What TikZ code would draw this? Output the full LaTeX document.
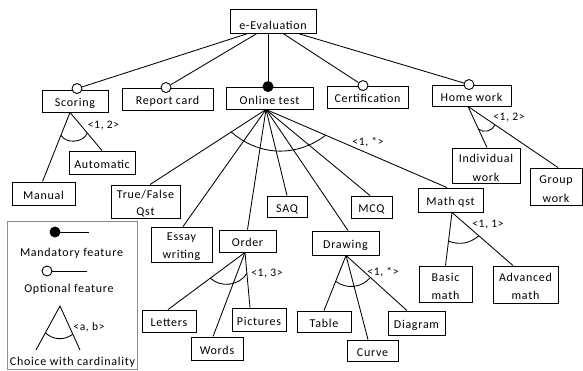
\documentclass[tikz,border=0pt]{standalone}
\usepackage{fontspec}
\setmainfont{Carlito}[LetterSpace=6]
\usetikzlibrary{calc}
\begin{document}
\begin{tikzpicture}[x=1pt,y=-1pt,
  txt/.style={font=\fontsize{12}{14}\selectfont, inner sep=0pt},
  card/.style={font=\fontsize{11.5}{13}\selectfont, inner sep=0pt},
  box/.style={draw, line width=0.9pt, inner sep=0pt, font=\fontsize{12}{14}\selectfont,
              text height=11.5pt, text depth=0.5pt},
  link/.style={line width=0.85pt},
  opt/.style={circle, draw, fill=white, line width=0.9pt, minimum size=10pt, inner sep=0pt},
  mand/.style={opt, fill=black},
]
\useasboundingbox (0,0) rectangle (583,370);

% ---------- feature boxes ----------
\node[box, minimum width=86pt, minimum height=24pt, text height=16.8pt, text depth=0.2pt] (ev) at (273,21) {e-Evaluation};

\node[box, minimum width=66pt, minimum height=22pt] (sc) at (75,101) {Scoring};
\node[box, minimum width=91pt, minimum height=22pt] (rc) at (167.5,99) {Report card};
\node[box, minimum width=87pt, minimum height=22pt, text height=12pt, text depth=0pt] (ot) at (269.5,98) {Online test};
\node[box, minimum width=81pt, minimum height=22pt] (ce) at (367.5,97) {Certification};
\node[box, minimum width=79pt, minimum height=21pt] (hw) at (471.5,95.5) {Home work};

\node[box, minimum width=66pt, minimum height=23pt] (aut) at (102,162.5) {Automatic};
\node[box, minimum width=63pt, minimum height=23pt] (man) at (43.5,193.5) {Manual};

\node[box, minimum width=69pt, minimum height=33pt] (tf) at (145.5,201.5) {};
\node[box, minimum width=61pt, minimum height=35pt] (es) at (181.5,244.5) {};
\node[box, minimum width=57pt, minimum height=22pt] (or) at (247.5,241) {Order};
\node[box, minimum width=40pt, minimum height=21pt] (saq) at (287,206.5) {SAQ};
\node[box, minimum width=41pt, minimum height=22pt] (mcq) at (371.5,207) {MCQ};
\node[box, minimum width=67pt, minimum height=24pt] (dr) at (345.5,243) {Drawing};
\node[box, minimum width=65pt, minimum height=24pt] (mq) at (450.5,200) {Math qst};

\node[box, minimum width=54pt, minimum height=22pt] (let) at (169,321) {Letters};
\node[box, minimum width=52pt, minimum height=23pt] (wor) at (217,348.5) {Words};
\node[box, minimum width=54pt, minimum height=23pt] (pic) at (259,319.5) {Pictures};

\node[box, minimum width=54pt, minimum height=21pt] (tab) at (324,321.5) {Table};
\node[box, minimum width=51pt, minimum height=21pt] (cur) at (372.5,350.5) {Curve};
\node[box, minimum width=57pt, minimum height=24pt] (dia) at (416.5,323) {Diagram};

\node[box, minimum width=53pt, minimum height=36pt] (bm) at (445.5,284) {};
\node[box, minimum width=65pt, minimum height=37pt] (am) at (525.5,284.5) {};
\node[box, minimum width=68pt, minimum height=35pt] (iw) at (486,165.5) {};
\node[box, minimum width=52pt, minimum height=37pt] (gw) at (556,186.5) {};

% two-line captions (set on fixed baselines)
\node[txt, anchor=base] (tf-a) at ([yshift=-14pt]tf.north) {True/False};
\node[txt, anchor=base] (tf-b) at ([yshift=-31pt]tf.north) {Qst};
\node[txt, anchor=base] (es-a) at ([yshift=-14pt]es.north) {Essay};
\node[txt, anchor=base] (es-b) at ([yshift=-32pt]es.north) {writing};
\node[txt, anchor=base] (bm-a) at ([yshift=-16pt]bm.north) {Basic};
\node[txt, anchor=base] (bm-b) at ([yshift=-34pt]bm.north) {math};
\node[txt, anchor=base] (am-a) at ([yshift=-16pt]am.north) {Advanced};
\node[txt, anchor=base] (am-b) at ([yshift=-34pt]am.north) {math};
\node[txt, anchor=base] (iw-a) at ([yshift=-15pt]iw.north) {Individual};
\node[txt, anchor=base] (iw-b) at ([yshift=-34pt]iw.north) {work};
\node[txt, anchor=base] (gw-a) at ([yshift=-16pt]gw.north) {Group};
\node[txt, anchor=base] (gw-b) at ([yshift=-35pt]gw.north) {work};

% ---------- attachment points ----------
\coordinate (ev-1) at ([xshift=-25pt]ev.south);
\coordinate (ev-2) at ([xshift=-16pt]ev.south);
\coordinate (ev-3) at ([xshift=-5pt]ev.south);
\coordinate (ev-4) at ([xshift=10pt]ev.south);
\coordinate (ev-5) at ([xshift=25pt]ev.south);

\coordinate (sc-hub) at ([xshift=-5pt]sc.south);
\coordinate (ot-hub) at ([xshift=-3.5pt]ot.south);
\coordinate (hw-hub) at ([xshift=-3.5pt]hw.south);
\coordinate (or-hub) at ([xshift=-2.5pt]or.south);
\coordinate (dr-hub) at ([xshift=0.5pt]dr.south);
\coordinate (mq-hub) at ([xshift=1.5pt]mq.south);

\coordinate (man-t) at ([xshift=-1pt]man.north);
\coordinate (aut-t) at (aut.north);
\coordinate (tf-t)  at ([xshift=4.5pt]tf.north);
\coordinate (es-t)  at ([xshift=1.5pt]es.north);
\coordinate (or-t)  at (or.north);
\coordinate (saq-t) at (saq.north);
\coordinate (mcq-t) at ([xshift=-1.5pt]mcq.north);
\coordinate (dr-t)  at ([xshift=2.5pt]dr.north);
\coordinate (mq-t)  at ([xshift=-3.5pt]mq.north);
\coordinate (let-t) at ([xshift=-1pt]let.north);
\coordinate (wor-t) at ([xshift=-4pt]wor.north);
\coordinate (pic-t) at ([xshift=-9pt]pic.north);
\coordinate (tab-t) at (tab.north);
\coordinate (cur-t) at ([xshift=-4.5pt]cur.north);
\coordinate (dia-t) at ([xshift=-9.5pt]dia.north);
\coordinate (bm-t)  at (bm.north);
\coordinate (am-t)  at ([xshift=-12.5pt]am.north);
\coordinate (iw-t)  at ([xshift=1pt]iw.north);
\coordinate (gw-t)  at ([xshift=2pt]gw.north);

% ---------- connectors ----------
\node[opt]  (sc-c) at ([xshift=2pt,yshift=1pt]sc.north) {};
\node[opt]  (rc-c) at ([xshift=-1.5pt]rc.north) {};
\node[mand] (ot-c) at ([xshift=-1.5pt]ot.north) {};
\node[opt]  (ce-c) at ([xshift=-4.5pt]ce.north) {};
\node[opt]  (hw-c) at ([xshift=-2.5pt]hw.north) {};

\draw[link] (ev-1) -- (sc-c);
\draw[link] (ev-2) -- (rc-c);
\draw[link] (ev-3) -- (ot-c);
\draw[link] (ev-4) -- (ce-c);
\draw[link] (ev-5) -- (hw-c);

\draw[link] (sc-hub) -- (man-t);
\draw[link] (sc-hub) -- (aut-t);

\draw[link] (ot-hub) -- (tf-t);
\draw[link] (ot-hub) -- (es-t);
\draw[link] (ot-hub) -- (or-t);
\draw[link] (ot-hub) -- (saq-t);
\draw[link] (ot-hub) -- (mcq-t);
\draw[link] (ot-hub) -- (dr-t);
\draw[link] (ot-hub) -- (mq-t);

\draw[link] (or-hub) -- (let-t);
\draw[link] (or-hub) -- (wor-t);
\draw[link] (or-hub) -- (pic-t);

\draw[link] (dr-hub) -- (tab-t);
\draw[link] (dr-hub) -- (cur-t);
\draw[link] (dr-hub) -- (dia-t);

\draw[link] (mq-hub) -- (bm-t);
\draw[link] (mq-hub) -- (am-t);

\draw[link] (hw-hub) -- (iw-t);
\draw[link] (hw-hub) -- (gw-t);

% ---------- group arcs and cardinalities ----------
\draw[link] ($(sc-hub)!0.33!(man-t)$) to[bend right=65] ($(sc-hub)!0.54!(aut-t)$);
\draw[link] ($(ot-hub)!0.30!(tf-t)$)  to[bend right=39] ($(ot-hub)!0.33!(mq-t)$);
\draw[link] ($(or-hub)!0.45!(let-t)$) to[bend right=51] ($(or-hub)!0.38!(pic-t)$);
\draw[link] ($(dr-hub)!0.47!(tab-t)$) to[bend right=43] ($(dr-hub)!0.40!(dia-t)$);
\draw[link] ($(mq-hub)!0.54!(bm-t)$)  to[bend right=30] ($(mq-hub)!0.44!(am-t)$);
\draw[link] ($(hw-hub)!0.55!(iw-t)$)  to[bend right=55] ($(hw-hub)!0.30!(gw-t)$);

\node[card] (sc-k) at (103.5,126) {<1, 2>};
\node[card] (ot-k) at (368,142) {<1, *>};
\node[card] (hw-k) at (509,118) {<1, 2>};
\node[card] (or-k) at (267,273) {<1, 3>};
\node[card] (dr-k) at (383,272) {<1, *>};
\node[card] (mq-k) at (488,225) {<1, 1>};

% ---------- legend ----------
\node[draw=black!45, line width=0.9pt, minimum width=130pt, minimum height=148pt, inner sep=0pt] (leg) at (72,295) {};

\node[mand] (lg-m) at (55,232) {};
\coordinate (lg-m-e) at (89,232);
\draw[link] (lg-m) -- (lg-m-e);
\node[txt, anchor=base] (lg-m-t) at (71.5,256) {Mandatory feature};

\node[opt] (lg-o) at (47,271) {};
\coordinate (lg-o-e) at (87,271);
\draw[link] (lg-o) -- (lg-o-e);
\node[txt, anchor=base] (lg-o-t) at (69,292.5) {Optional feature};

\coordinate (lg-apex) at (60,306);
\coordinate (lg-l) at (36,350);
\coordinate (lg-r) at (80,350);
\draw[link] (lg-l) -- (lg-apex) -- (lg-r);
\draw[link] ($(lg-apex)!0.61!(lg-l)$) to[bend right=40] ($(lg-apex)!0.64!(lg-r)$);
\node[card] (lg-k) at (89,327) {<a, b>};
\node[txt, anchor=base] (lg-c-t) at (72.5,365) {Choice with cardinality};

\end{tikzpicture}
\end{document}
